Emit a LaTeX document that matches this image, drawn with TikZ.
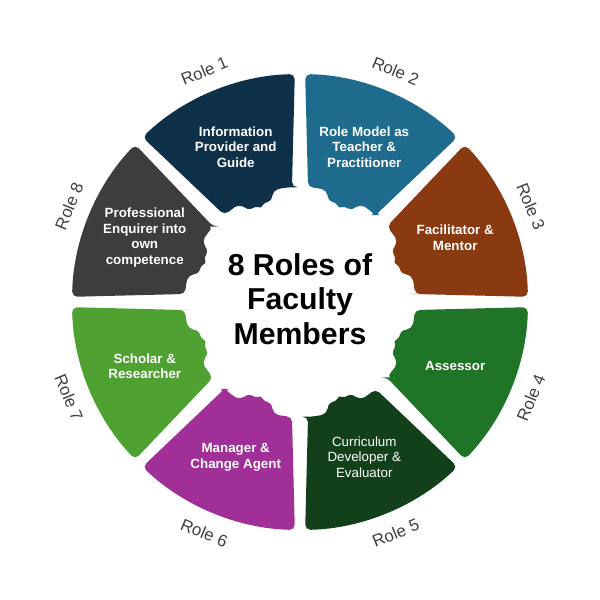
\documentclass[tikz,border=0pt]{standalone}
\usepackage{fontspec}
\setmainfont{Liberation Sans}
\usetikzlibrary{backgrounds}

\definecolor{rolenavy}{HTML}{0F3049}
\definecolor{roleblue}{HTML}{1F6B8E}
\definecolor{rolebrown}{HTML}{8A3A10}
\definecolor{rolegreen}{HTML}{1F7428}
\definecolor{roledark}{HTML}{12401A}
\definecolor{rolepurple}{HTML}{A02F98}
\definecolor{rolelime}{HTML}{4FA132}
\definecolor{rolegrey}{HTML}{3D3D3D}

\tikzset{
  segtext/.style={text=white, align=center, inner sep=0.5pt, font=\fontsize{3.8}{4.4}\selectfont\bfseries},
  roletext/.style={text=black!75, inner sep=0pt, font=\fontsize{4.8}{5.5}\selectfont},
}

\newcommand{\segshape}{%
  (-18.5:1.15) -- (-21.2:2.28) arc[start angle=-21.2, end angle=21.2, radius=2.28]
  -- (18.5:1.15) arc[start angle=18.5, end angle=9, radius=1.15]
  .. controls (6:1.02) and (3:1.07) .. (0:1.0)
  .. controls (-3:1.07) and (-6:1.02) .. (-9:1.15)
  arc[start angle=-9, end angle=-18.5, radius=1.15] -- cycle}

\begin{document}
\begin{tikzpicture}
  \useasboundingbox (-3,-2.98) rectangle (3,3.02);

  % ring of roles
  \foreach \a/\col/\txt/\n in {
      112.5/rolenavy/{Information\\Provider and\\Guide}/1,
      67.5/roleblue/{Role Model as\\Teacher \&\\Practitioner}/2,
      22.5/rolebrown/{Facilitator \&\\Mentor}/3,
      -22.5/rolegreen/{Assessor}/4,
      -67.5/roledark/{\mdseries Curriculum\\\mdseries Developer \&\\\mdseries Evaluator}/5,
      -112.5/rolepurple/{Manager \&\\Change Agent}/6,
      -157.5/rolelime/{Scholar \&\\Researcher}/7,
      157.5/rolegrey/{Professional\\Enquirer into\\own\\competence}/8} {
    \fill[\col, rounded corners=1.5pt, rotate=\a] \segshape;
    \node[segtext] (seg\n) at (\a:1.68) {\txt};
    \ifdim \a pt>0pt
      \node[roletext, rotate=\a-90] (role\n) at (\a:2.5) {Role \n};
    \else
      \node[roletext, rotate=\a+90] (role\n) at (\a:2.5) {Role \n};
    \fi
  }

  \node[align=center, font=\fontsize{8.6}{9.8}\selectfont\bfseries] (title) at (0,0.03)
    {8 Roles of\\Faculty\\Members};

\end{tikzpicture}
\end{document}
